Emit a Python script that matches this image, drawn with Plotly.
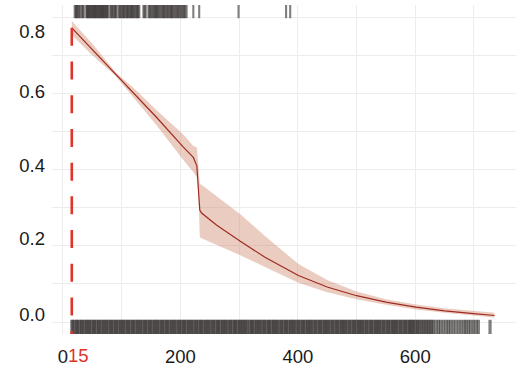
import plotly.graph_objects as go

# Estimated survival curve with confidence band
surv_time = [15, 50, 90, 120, 160, 205, 222, 228, 231, 233, 236, 262, 302, 344,
             401, 450, 500, 550, 601, 650, 699, 735]
surv_est = [0.772, 0.715, 0.650, 0.601, 0.536, 0.459, 0.432, 0.410, 0.346, 0.294,
            0.286, 0.254, 0.212, 0.170, 0.122, 0.092, 0.069, 0.052, 0.039, 0.029,
            0.022, 0.017]
surv_hi = [0.790, 0.730, 0.655, 0.615, 0.555, 0.492, 0.462, 0.458, 0.403, 0.362,
           0.360, 0.330, 0.283, 0.226, 0.152, 0.110, 0.080, 0.060, 0.046, 0.036,
           0.029, 0.024]
surv_lo = [0.753, 0.700, 0.645, 0.588, 0.515, 0.425, 0.394, 0.380, 0.330, 0.222,
           0.220, 0.202, 0.175, 0.145, 0.103, 0.078, 0.060, 0.045, 0.033, 0.024,
           0.017, 0.012]

# Reference time marked with a dashed line
ref_time = 15

# Event times (top rug) and censoring / follow-up times (bottom rug)
event_times = [20, 22, 23.5, 25, 27, 29, 32, 33.5, 35.5, 39.5, 41, 42.5, 44, 45.5,
               47, 48.5, 50, 51.5, 53, 54.5, 56, 57.5, 59, 60.5, 62, 63.5, 65, 66.5,
               68, 69.5, 71, 72.5, 74, 75.5, 77, 80.5, 82.5, 84, 86, 88, 89.5, 91,
               94.5, 96.5, 98, 100, 102, 103.5, 105, 107, 109, 110.5, 112, 114, 116,
               117.5, 119, 121, 123, 125, 126.5, 128, 130, 137, 139, 141, 145.5,
               147.5, 149, 151, 153, 155, 157, 158.5, 160, 162, 164, 166, 168, 170,
               171.5, 173, 175, 177, 179, 181, 183, 184.5, 186, 188, 190, 192, 194,
               196, 198, 200, 202, 204, 206, 208, 210.5, 222, 232, 299, 380, 387]

follow_times = [15, 17, 20, 23, 25, 28, 31, 33, 36, 39, 41, 44, 46, 49, 52, 54, 57,
                60, 62, 65, 68, 70, 73, 75, 78, 81, 83, 86, 89, 91, 94, 97, 99, 102,
                104, 107, 110, 112, 115, 118, 120, 123, 126, 128, 131, 133, 136, 139,
                141, 144, 147, 149, 152, 155, 157, 160, 162, 165, 168, 170, 173, 176,
                178, 181, 184, 186, 189, 191, 194, 197, 199, 202, 205, 207, 210, 213,
                215, 218, 220, 223, 226, 228, 231, 234, 236, 239, 242, 244, 247, 249,
                252, 255, 257, 260, 263, 265, 268, 271, 273, 276, 278, 281, 284, 286,
                289, 292, 294, 297, 300, 302, 305, 307, 310, 312, 315, 318, 321, 323,
                326, 329, 331, 334, 336, 339, 342, 344, 347, 350, 352, 355, 358, 360,
                363, 365, 368, 371, 373, 376, 379, 381, 384, 387, 389, 392, 394, 397,
                400, 402, 405, 408, 410, 413, 416, 418, 421, 423, 426, 429, 431, 434,
                437, 439, 442, 445, 447, 450, 452, 455, 458, 460, 463, 466, 468, 471,
                474, 476, 479, 481, 484, 487, 489, 492, 495, 497, 500, 503, 505, 508,
                510, 513, 516, 518, 521, 524, 526, 529, 532, 534, 537, 539, 542, 545,
                547, 550, 553, 555, 558, 561, 563, 566, 568, 571, 574, 576, 579, 582,
                584, 587, 590, 592, 595, 597, 600, 603, 605, 608, 611, 613.8, 616.7,
                619.5, 622.4, 625.2, 628.1, 630.9, 635.4, 639.4, 643.4, 647.9, 652.5,
                656.4, 660.4, 664.9, 669.5, 674.1, 678.5, 683.1, 686.5, 690.5, 694.5,
                699, 703.6, 707.5, 727.4]

# Axis labelling
x_tick_vals = [0, 100, 200, 300, 400, 500, 600, 700]
x_tick_text = ["0", "", "200", "", "400", "", "600", ""]
y_label_text = ["0.0", "0.2", "0.4", "0.6", "0.8"]
y_label_pos = [0.019, 0.218, 0.412, 0.606, 0.763]
y_grid_vals = [0.0, 0.1, 0.2, 0.3, 0.4, 0.5, 0.6, 0.7, 0.8]

Y_MIN, Y_MAX = -0.0315, 0.832
RUG_TOP_Y = 0.8176
RUG_BOTTOM_Y = -0.0144
RUG_COLOR = "rgba(45,40,40,0.6)"
RED = "#e0332a"
GRID = "#ececec"

fig = go.Figure()

# Confidence band
fig.add_trace(go.Scatter(
    x=surv_time + surv_time[::-1],
    y=surv_hi + surv_lo[::-1],
    fill="toself", fillcolor="rgba(205,135,105,0.42)",
    line=dict(width=0), mode="lines", hoverinfo="skip",
))

# Estimate
fig.add_trace(go.Scatter(
    x=surv_time, y=surv_est, mode="lines",
    line=dict(color="#a02a22", width=1.2),
))

# Rugs
fig.add_trace(go.Scatter(
    x=event_times, y=[RUG_TOP_Y] * len(event_times), mode="markers",
    marker=dict(symbol="line-ns", size=11, line=dict(width=2.1, color=RUG_COLOR)),
))
fig.add_trace(go.Scatter(
    x=follow_times, y=[RUG_BOTTOM_Y] * len(follow_times), mode="markers",
    marker=dict(symbol="line-ns", size=11, line=dict(width=3.2, color=RUG_COLOR)),
))

# Dashed reference line
fig.add_trace(go.Scatter(
    x=[ref_time, ref_time], y=[surv_est[0], Y_MIN], mode="lines",
    line=dict(color=RED, width=2.6, dash="18px,15.7px"),
))

font_family = "Liberation Sans, Arial, Helvetica, sans-serif"

fig.update_layout(
    width=518, height=375,
    margin=dict(l=52, r=2, t=5, b=41),
    paper_bgcolor="white", plot_bgcolor="white",
    showlegend=False,
    font=dict(family=font_family, size=18.5, color="#1a1a1a"),
    xaxis=dict(
        range=[-18.7, 771.6],
        tickmode="array", tickvals=x_tick_vals, ticktext=x_tick_text,
        showgrid=True, gridcolor=GRID, gridwidth=1,
        zeroline=False, showline=False, ticks="",
        ticklabelstandoff=9,
    ),
    yaxis=dict(
        range=[Y_MIN, Y_MAX],
        tickmode="array", tickvals=y_label_pos, ticktext=y_label_text,
        showgrid=False, zeroline=False, showline=False, ticks="",
        ticklabelstandoff=6,
        minor=dict(tickmode="array", tickvals=y_grid_vals, showgrid=True,
                   gridcolor=GRID, gridwidth=1, ticks=""),
    ),
)

# Red label for the reference time on the x axis
fig.add_annotation(
    x=ref_time, xref="x", y=0, yref="paper",
    text="15", showarrow=False, xanchor="left", yanchor="top",
    xshift=-6, yshift=-9,
    font=dict(family=font_family, size=18.5, color=RED),
)

fig.write_html("out.html")
